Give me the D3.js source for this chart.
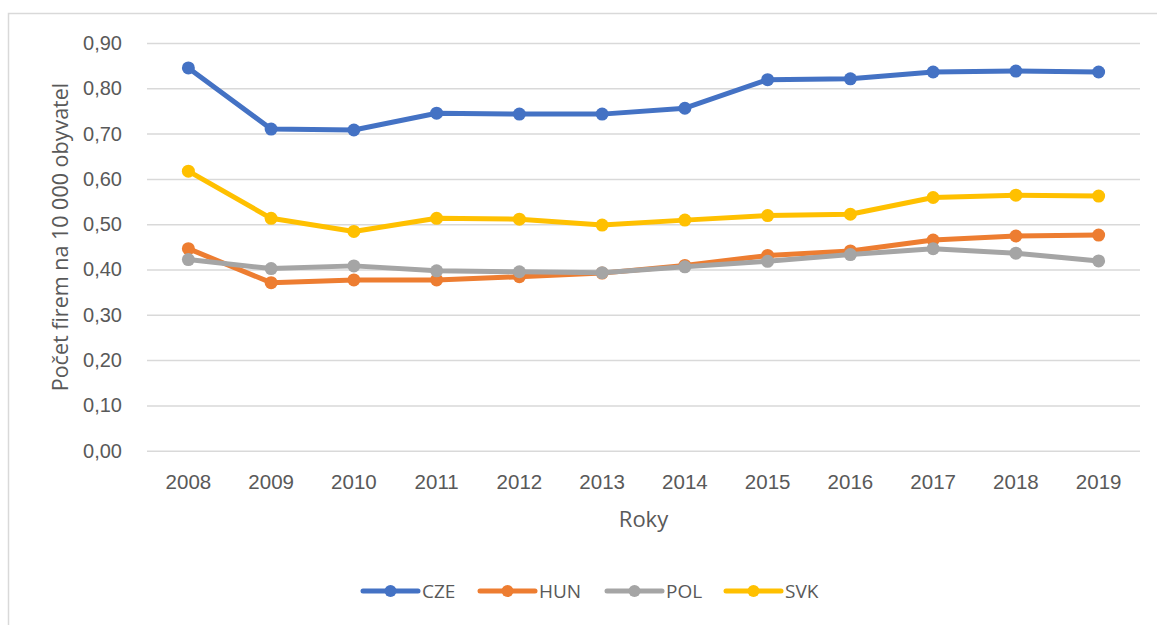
<!DOCTYPE html>
<html>
<head>
<meta charset="utf-8">
<script src="https://cdn.jsdelivr.net/npm/d3@7"></script>
<style>
  html, body { margin: 0; padding: 0; background: #fff; }
  svg { display: block; font-family: "Open Sans", "Noto Sans", sans-serif; }
</style>
</head>
<body>
<svg id="chart" width="1157" height="625"></svg>
<script>
// Počet firem na 10 000 obyvatel, 2008–2019
const years = ["2008","2009","2010","2011","2012","2013","2014","2015","2016","2017","2018","2019"];
const seriesNames = ["CZE", "HUN", "POL", "SVK"];
const cze = [0.845, 0.710, 0.708, 0.745, 0.743, 0.743, 0.756, 0.819, 0.821, 0.836, 0.838, 0.836];
const hun = [0.446, 0.371, 0.377, 0.377, 0.384, 0.392, 0.409, 0.431, 0.441, 0.465, 0.474, 0.476];
const pol = [0.422, 0.402, 0.408, 0.397, 0.395, 0.393, 0.406, 0.418, 0.433, 0.446, 0.436, 0.419];
const svk = [0.617, 0.513, 0.484, 0.513, 0.511, 0.498, 0.509, 0.519, 0.522, 0.559, 0.564, 0.562];
const yTicks = [0, 0.1, 0.2, 0.3, 0.4, 0.5, 0.6, 0.7, 0.8, 0.9];
const colors = ["#4472C4", "#ED7D31", "#A5A5A5", "#FFC000"];

const seriesValues = [cze, hun, pol, svk];
const series = seriesNames.map((name, i) => ({
  name, color: colors[i],
  values: years.map((y, j) => ({ year: y, value: seriesValues[i][j] }))
}));

const svg = d3.select("#chart");

// chart frame
svg.append("rect")
  .attr("x", 8.5).attr("y", 13.5)
  .attr("width", 1170).attr("height", 640)
  .attr("fill", "none").attr("stroke", "#d9d9d9").attr("stroke-width", 1.5);

const plot = { left: 147, right: 1140, top: 43, bottom: 450.7 };

const x = d3.scaleBand().domain(years).range([plot.left, plot.right]);
const y = d3.scaleLinear().domain([0, 0.9]).range([plot.bottom, plot.top]);

const fmt = v => d3.format(".2f")(v).replace(".", ",");

// gridlines + y tick labels
const yAxis = d3.axisLeft(y).tickValues(yTicks).tickFormat(fmt)
  .tickSize(-(plot.right - plot.left)).tickPadding(25);
const gy = svg.append("g").attr("transform", `translate(${plot.left},0)`).call(yAxis);
gy.select(".domain").remove();
gy.selectAll(".tick line").attr("stroke", "#d9d9d9").attr("stroke-width", 1.5);
gy.selectAll(".tick text").attr("fill", "#595959").attr("font-size", 20);

// x tick labels
const xAxis = d3.axisBottom(x).tickSize(0).tickPadding(23.5);
const gx = svg.append("g").attr("transform", `translate(0,${plot.bottom})`).call(xAxis);
gx.select(".domain").remove();
gx.selectAll(".tick text").attr("fill", "#595959").attr("font-size", 20.5);

// axis titles
svg.append("text")
  .attr("transform", `translate(68,237) rotate(-90)`)
  .attr("text-anchor", "middle").attr("fill", "#595959").attr("font-size", 21.5)
  .text("Počet firem na 10 000 obyvatel");
svg.append("text")
  .attr("x", (plot.left + plot.right) / 2).attr("y", 527)
  .attr("text-anchor", "middle").attr("fill", "#595959").attr("font-size", 22)
  .text("Roky");

// lines and markers
const line = d3.line()
  .x(d => x(d.year) + x.bandwidth() / 2)
  .y(d => y(d.value));

const gs = svg.append("g").selectAll("g").data(series).join("g");
gs.append("path")
  .attr("d", d => line(d.values))
  .attr("fill", "none")
  .attr("stroke", d => d.color)
  .attr("stroke-width", 5)
  .attr("stroke-linejoin", "round")
  .attr("stroke-linecap", "round");
gs.selectAll("circle").data(d => d.values.map(v => ({ ...v, color: d.color })))
  .join("circle")
  .attr("cx", d => x(d.year) + x.bandwidth() / 2)
  .attr("cy", d => y(d.value))
  .attr("r", 6.5)
  .attr("fill", d => d.color);

// legend
const legendX = [363, 480, 607, 726];
const lg = svg.append("g").selectAll("g").data(series).join("g")
  .attr("transform", (d, i) => `translate(${legendX[i]},591)`);
lg.append("line")
  .attr("x1", 0).attr("x2", 55).attr("y1", 0).attr("y2", 0)
  .attr("stroke", d => d.color).attr("stroke-width", 5).attr("stroke-linecap", "round");
lg.append("circle").attr("cx", 27.5).attr("cy", 0).attr("r", 6).attr("fill", d => d.color);
lg.append("text")
  .attr("x", 59).attr("y", 7)
  .attr("fill", "#595959").attr("font-size", 19)
  .text(d => d.name);
</script>
</body>
</html>
